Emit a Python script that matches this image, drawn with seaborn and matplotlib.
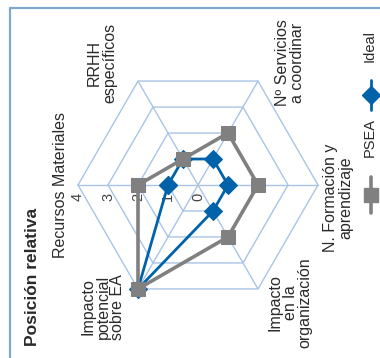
import numpy as np
import pandas as pd
import matplotlib
matplotlib.use("Agg")
import matplotlib.pyplot as plt
from matplotlib.lines import Line2D
import seaborn as sns

sns.set_theme(style="white")
plt.rcParams["font.family"] = ["Liberation Sans", "DejaVu Sans"]

# Radar axes, listed clockwise starting from the left-hand spoke
categories = [
    "Recursos Materiales",
    "RRHH\nespecíficos",
    "Nº Servicios\na coordinar",
    "N. Formación y\naprendizaje",
    "Impacto\nen la\norganización",
    "Impacto\npotencial\nsobre EA",
]
psea = [2, 1, 2, 2, 2, 4]
ideal = [1, 1, 1, 1, 1, 4]
ticks = [0, 1, 2, 3, 4]
series_names = ["PSEA", "Ideal"]

GRID = "#a9c4e6"
GRAY = "#808080"
BLUE = "#0062a8"
FRAME = "#7fa8cf"
TEXT = "#2a2a2a"

n = len(categories)
angles = np.pi - np.arange(n) * np.pi / 3  # start at the left, go clockwise
rmax = max(ticks)


def to_xy(values):
    v = np.asarray(values + values[:1], dtype=float)
    a = np.concatenate([angles, angles[:1]])
    return v * np.cos(a), v * np.sin(a)


W, H = 380, 358
fig = plt.figure(figsize=(W / 100, H / 100), dpi=100)
ax = fig.add_axes([0, 0, 1, 1])
cx, cy, unit = 198, 185, 30.0

# hexagonal grid rings and spokes
for t in ticks[1:]:
    gx, gy = to_xy([t] * n)
    ax.plot(gx, gy, color=GRID, lw=1.0, zorder=1)
for a in angles:
    ax.plot([0, rmax * np.cos(a)], [0, rmax * np.sin(a)], color=GRID, lw=1.0, zorder=1)

# radial tick labels along the left spoke
for t in ticks:
    ax.text(t * np.cos(angles[0]), -0.4, str(t), rotation=90, ha="center",
            va="center", fontsize=10.5, color="#444444")

# series
rows = []
for name, vals in zip(series_names, [psea, ideal]):
    xs, ys = to_xy(vals)
    for i, (x, y) in enumerate(zip(xs, ys)):
        rows.append({"serie": name, "order": i, "x": x, "y": y})
df = pd.DataFrame(rows)

sns.lineplot(data=df[df.serie == "Ideal"], x="x", y="y", sort=False, estimator=None,
             color=BLUE, lw=2.0, marker="D", markersize=9.5, markeredgecolor=BLUE,
             ax=ax, zorder=3, legend=False)
sns.lineplot(data=df[df.serie == "PSEA"], x="x", y="y", sort=False, estimator=None,
             color=GRAY, lw=2.6, marker="s", markersize=9.5, markeredgecolor=GRAY,
             ax=ax, zorder=4, legend=False)
ax.set_xlim(-cx / unit, (W - cx) / unit)
ax.set_ylim(-(H - cy) / unit, cy / unit)
ax.axis("off")

# category labels (px positions converted to data units)
label_px = [(60, 185), (102, 63), (290, 63), (338, 198), (290, 303), (103, 307)]
for text, (px, py) in zip(categories, label_px):
    ax.text((px - cx) / unit, (cy - py) / unit, text, rotation=90, ha="center",
            va="center", multialignment="center", fontsize=11.5, color=TEXT,
            linespacing=0.98)

# title
fig.text(33 / W, 1 - 277 / H, "Posición relativa", rotation=90, ha="center",
         va="center", fontsize=12.5, fontweight="bold", color=TEXT)


# legend drawn vertically on the right
def fx(px):
    return px / W


def fy(py):
    return 1 - py / H


fig.add_artist(Line2D([fx(371), fx(371)], [fy(80), fy(110)], color=BLUE, lw=2.0))
fig.add_artist(Line2D([fx(371)], [fy(95)], color=BLUE, marker="D", markersize=9.5))
fig.text(fx(370), fy(62), "Ideal", rotation=90, ha="center", va="bottom",
         fontsize=10.5, color=TEXT)
fig.add_artist(Line2D([fx(371), fx(371)], [fy(177), fy(213)], color=GRAY, lw=2.6))
fig.add_artist(Line2D([fx(371)], [fy(195)], color=GRAY, marker="s", markersize=9.5))
fig.text(fx(370), fy(157), "PSEA", rotation=90, ha="center", va="bottom",
         fontsize=10.5, color=TEXT)

# frame edges
fig.add_artist(Line2D([fx(10), fx(10)], [fy(8), fy(H)], color=FRAME, lw=1.6))
fig.add_artist(Line2D([fx(10), fx(W)], [fy(8), fy(8)], color=FRAME, lw=1.6))

fig.savefig("out.png", dpi=100)
